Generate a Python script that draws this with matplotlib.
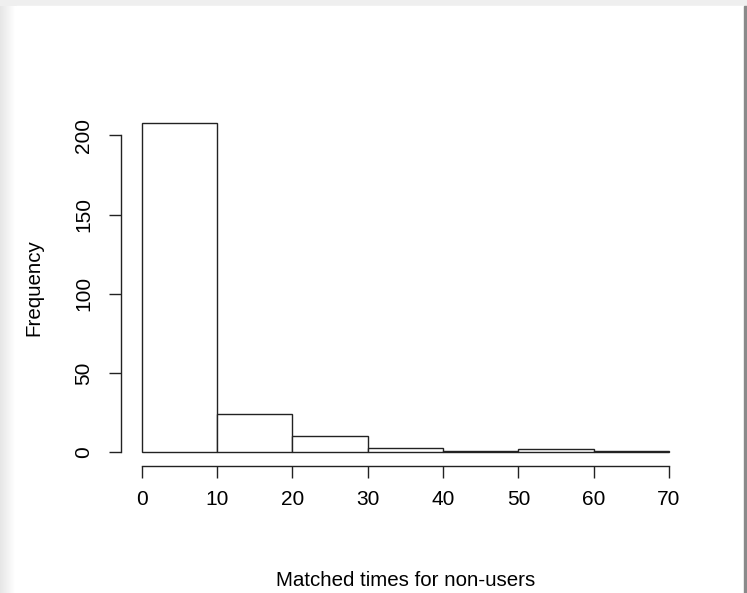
import numpy as np
import matplotlib.pyplot as plt
from matplotlib.patches import Rectangle

# histogram of matched times for non-users
bin_left = [0, 10, 20, 30, 40, 50, 60]
counts = [208, 24, 10, 3, 1, 2, 1]
x_ticks = [0, 10, 20, 30, 40, 50, 60, 70]
y_ticks = [0, 50, 100, 150, 200]

W, H = 747, 593
fig = plt.figure(figsize=(W / 100, H / 100), dpi=100)
fig.patch.set_facecolor('#efefef')

# white page with a soft shadow round it
fig.add_artist(Rectangle((16 / W, 0), (744 - 16) / W, (H - 6) / H,
                         transform=fig.transFigure, color='white', zorder=0))
fig.add_artist(Rectangle((744 / W, 0), 3 / W, (H - 6) / H,
                         transform=fig.transFigure, color='#8a8a8a', zorder=0))
sh = fig.add_axes([0, 0, 16 / W, (H - 6) / H], zorder=0)
sh.imshow(np.linspace(0.9, 1.0, 16)[None, :], cmap='gray', vmin=0, vmax=1,
          aspect='auto', extent=(0, 1, 0, 1))
sh.axis('off')

plt.rcParams['font.family'] = 'Liberation Sans'

left, right = 120.6, 690.1
top, bottom = 109.5, 465.5
ax = fig.add_axes([left / W, 1 - bottom / H, (right - left) / W, (bottom - top) / H])
ax.patch.set_alpha(0)

ax.bar(bin_left, counts, width=10, align='edge', facecolor='white',
       edgecolor='#222222', linewidth=1.0)

ax.set_xlim(-2.8, 72.8)
ax.set_ylim(-8.32, 216.32)

for s in ['top', 'right']:
    ax.spines[s].set_visible(False)
ax.spines['left'].set_bounds(0, 200)
ax.spines['bottom'].set_bounds(0, 70)
for s in ['left', 'bottom']:
    ax.spines[s].set_color('#222222')
    ax.spines[s].set_linewidth(1.0)

ax.set_xticks(x_ticks)
ax.set_yticks(y_ticks)
ax.set_yticklabels([str(v) for v in y_ticks], rotation=90, va='center')
ax.tick_params(length=8.6, width=1.0, color='#222222', labelsize=15)
ax.tick_params(axis='x', pad=9)
ax.tick_params(axis='y', pad=11)

ax.set_xlabel('Matched times for non-users', fontsize=14.8, labelpad=45)
ax.set_ylabel('Frequency', fontsize=14.8, labelpad=22)

fig.savefig('out.png', dpi=100)
